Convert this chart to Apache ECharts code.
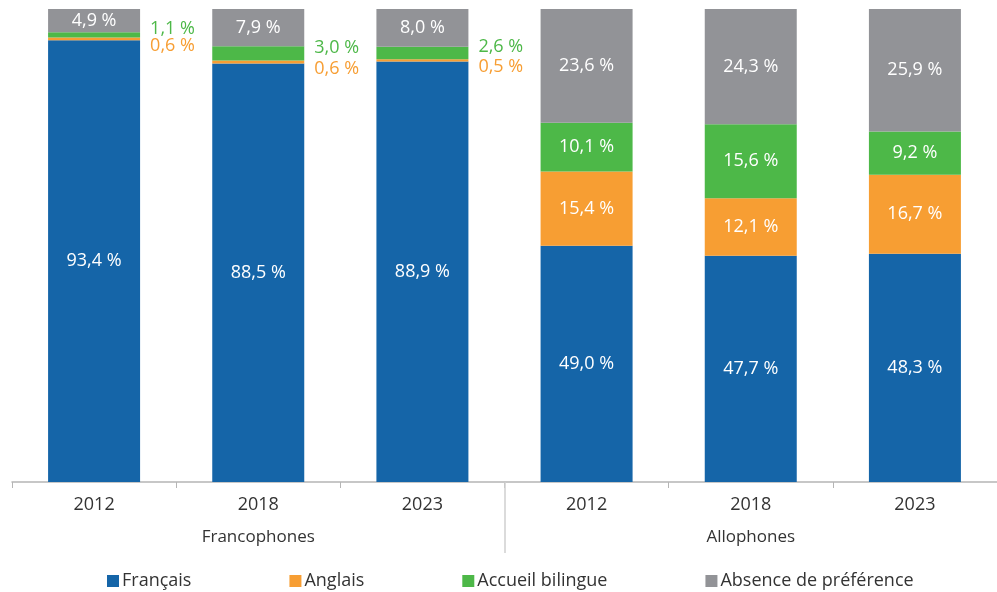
<!DOCTYPE html>
<html>
<head>
<meta charset="utf-8">
<script src="https://cdn.jsdelivr.net/npm/echarts@6/dist/echarts.min.js"></script>
<style>
  html, body { margin: 0; padding: 0; background: #fff; }
  #chart { width: 997px; height: 592px; }
</style>
</head>
<body>
<div id="chart"></div>
<script>
// données (%)
var years = ['2012', '2018', '2023', '2012', '2018', '2023'];
var groups = ['Francophones', 'Allophones'];
var francais = [93.4, 88.5, 88.9, 49.0, 47.7, 48.3];
var anglais = [0.6, 0.6, 0.5, 15.4, 12.1, 16.7];
var bilingue = [1.1, 3.0, 2.6, 10.1, 15.6, 9.2];
var absence = [4.9, 7.9, 8.0, 23.6, 24.3, 25.9];
var seriesNames = ['Français', 'Anglais', 'Accueil bilingue', 'Absence de préférence'];
var colors = ['#1565a8', '#f79e33', '#4db848', '#929397'];

var font = '"Open Sans", "Noto Sans", sans-serif';
var raw = [francais, anglais, bilingue, absence];
// chaque barre remplit 100 %
var totals = years.map(function (y, i) {
  return francais[i] + anglais[i] + bilingue[i] + absence[i];
});

function fmt(v) {
  return v.toFixed(1).replace('.', ',') + ' %';
}

// petites valeurs des francophones : étiquette à droite de la barre
var outside = { 1: 7, 2: -6 };

var series = raw.map(function (vals, s) {
  return {
    name: seriesNames[s],
    type: 'bar',
    stack: 'total',
    barWidth: 92,
    itemStyle: { color: colors[s] },
    label: {
      show: true,
      position: 'inside',
      color: '#fff',
      fontSize: 18,
      fontFamily: font,
      formatter: function (p) { return fmt(vals[p.dataIndex]); }
    },
    data: vals.map(function (v, i) {
      var item = { value: v / totals[i] * 100 };
      if (outside[s] !== undefined && i < 3) {
        item.label = {
          position: 'right',
          distance: 10,
          color: colors[s],
          offset: [0, outside[s]]
        };
      }
      return item;
    })
  };
});

var myChart = echarts.init(document.getElementById('chart'));
var option = {
  animation: false,
  textStyle: { fontFamily: font },
  grid: { left: 12, right: -7, top: 9, bottom: 110, containLabel: false },
  legend: {
    data: seriesNames,
    left: 102,
    top: 567,
    itemWidth: 12,
    itemHeight: 12,
    itemGap: 98,
    icon: 'rect',
    textStyle: { fontSize: 18, color: '#333', fontFamily: font, padding: [0, 0, 0, -2] }
  },
  xAxis: [
    {
      type: 'category',
      data: years,
      axisLine: { lineStyle: { color: '#b5b5b5', width: 1.5 } },
      axisTick: { show: true, interval: 0, length: 6, lineStyle: { color: '#b5b5b5' } },
      axisLabel: { color: '#333', fontSize: 18, margin: 14, fontFamily: font }
    },
    {
      type: 'category',
      data: groups,
      position: 'bottom',
      axisLine: { show: false },
      axisTick: { show: false },
      axisLabel: { color: '#333', fontSize: 17, margin: 47, fontFamily: font }
    },
    {
      // séparateur entre les deux groupes
      type: 'category',
      data: ['', '', ''],
      boundaryGap: false,
      position: 'bottom',
      axisLine: { show: false },
      axisLabel: { show: false },
      axisTick: {
        show: true,
        length: 71,
        interval: function (idx) { return idx === 1; },
        lineStyle: { color: '#cfcfcf', width: 1.5 }
      }
    }
  ],
  yAxis: {
    type: 'value',
    min: 0,
    max: 100,
    show: false
  },
  series: series
};
myChart.setOption(option);
</script>
</body>
</html>
